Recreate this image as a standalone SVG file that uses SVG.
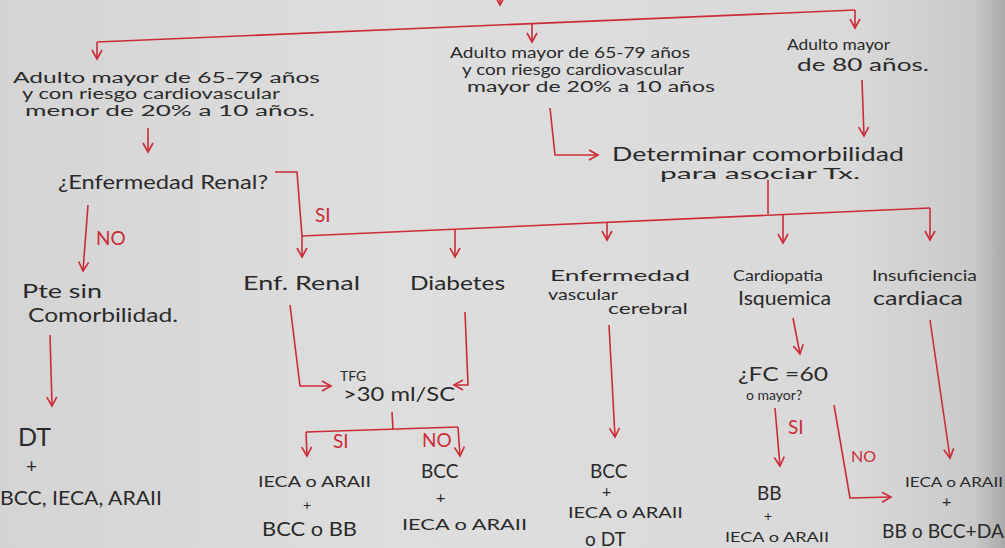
<svg xmlns="http://www.w3.org/2000/svg" width="1005" height="548" viewBox="0 0 1005 548">
<defs>
<linearGradient id="paper" x1="0" y1="0" x2="1" y2="0">
<stop offset="0" stop-color="#d4d4d4"/>
<stop offset="0.4" stop-color="#dedede"/>
<stop offset="0.85" stop-color="#d9d9d9"/>
<stop offset="0.97" stop-color="#c9c9c9"/>
<stop offset="1" stop-color="#a9a9a9"/>
</linearGradient>
<marker id="ah" viewBox="0 0 12 12" refX="10" refY="6" markerWidth="12" markerHeight="12" markerUnits="userSpaceOnUse" orient="auto">
<path d="M1,1 L10,6 L1,11" fill="none" stroke="#cc2b36" stroke-width="1.6"/>
</marker>
<style>
.t{font-family:"Lato","Liberation Sans",sans-serif;font-size:16px;fill:#2a2a2a;}
.m{font-size:19px;}
.n{font-size:17.5px;}
.s{font-size:14px;}
.x{font-size:14.5px;}
.L{font-size:25px;}
.r{font-family:"Lato","Liberation Sans",sans-serif;font-size:19px;fill:#cc2b36;}
.rs{font-size:16px;}
.c{fill:none;stroke:#cc2b36;stroke-width:1.6;stroke-linejoin:round;}
.a{marker-end:url(#ah);}
</style>
</defs>
<rect x="0" y="0" width="1005" height="548" fill="url(#paper)"/>
<g id="connectors">
<path class="c a" d="M500,-8 L500,5"/>
<path class="c" d="M97,42 L855,10"/>
<path class="c a" d="M97,42 L97,59"/>
<path class="c a" d="M532,23.6 L532,42"/>
<path class="c a" d="M855,10 L855,28"/>
<path class="c a" d="M550,108 L555,155 L598,155"/>
<path class="c a" d="M862,80 L864,136"/>
<path class="c a" d="M148,128 L148,152"/>
<path class="c" d="M768,180 L768,214"/>
<path class="c" d="M302,236 L930,208"/>
<path class="c" d="M275,172 L297,172 L302,236"/>
<path class="c a" d="M302,236 L302,257"/>
<path class="c a" d="M455,229 L455,257"/>
<path class="c a" d="M607,222 L607,240"/>
<path class="c a" d="M783,215 L783,243"/>
<path class="c a" d="M930,208 L930,240"/>
<path class="c a" d="M88,205 L83,271"/>
<path class="c a" d="M50,335 L52,406"/>
<path class="c a" d="M290,305 L300,386 L331,386"/>
<path class="c a" d="M465,312 L468,385 L454,385"/>
<path class="c" d="M392,412 L393,430"/>
<path class="c" d="M306,432 L458,427"/>
<path class="c a" d="M306,432 L307,456"/>
<path class="c a" d="M458,427 L460,456"/>
<path class="c a" d="M609,325 L615,437"/>
<path class="c a" d="M793,318 L800,354"/>
<path class="c a" d="M775,408 L780,466"/>
<path class="c a" d="M834,405 L850,498 L891,497"/>
<path class="c a" d="M930,320 L950,458"/>
</g>
<g id="labels">
<text class="r" x="315" y="222">SI</text>
<text class="r" x="96" y="245">NO</text>
<text class="r" x="333" y="448">SI</text>
<text class="r" x="422" y="447">NO</text>
<text class="r" x="788" y="434">SI</text>
<text class="r rs" x="851" y="462">NO</text>
</g>
<g id="n1">
<text class="t x" x="13" y="83" textLength="307" lengthAdjust="spacingAndGlyphs">Adulto mayor de 65-79 años</text>
<text class="t x" x="22" y="99" textLength="258" lengthAdjust="spacingAndGlyphs">y con riesgo cardiovascular</text>
<text class="t x" x="25" y="116" textLength="290" lengthAdjust="spacingAndGlyphs">menor de 20% a 10 años.</text>
</g>
<g id="n2">
<text class="t x" x="450" y="58" textLength="240" lengthAdjust="spacingAndGlyphs">Adulto mayor de 65-79 años</text>
<text class="t x" x="462" y="75" textLength="222" lengthAdjust="spacingAndGlyphs">y con riesgo cardiovascular</text>
<text class="t x" x="467" y="92" textLength="248" lengthAdjust="spacingAndGlyphs">mayor de 20% a 10 años</text>
</g>
<g id="n3">
<text class="t x" x="787" y="50" textLength="103" lengthAdjust="spacingAndGlyphs">Adulto mayor</text>
<text class="t n" x="797" y="71" textLength="132" lengthAdjust="spacingAndGlyphs">de 80 años.</text>
</g>
<g id="n4">
<text class="t m" x="612" y="161" textLength="292" lengthAdjust="spacingAndGlyphs">Determinar comorbilidad</text>
<text class="t" x="660" y="179" textLength="200" lengthAdjust="spacingAndGlyphs">para asociar Tx.</text>
</g>
<g id="n5">
<text class="t m" x="58" y="189" textLength="210" lengthAdjust="spacingAndGlyphs">¿Enfermedad Renal?</text>
</g>
<g id="n6">
<text class="t m" x="22" y="298" textLength="80" lengthAdjust="spacingAndGlyphs">Pte sin</text>
<text class="t m" x="28" y="322" textLength="150" lengthAdjust="spacingAndGlyphs">Comorbilidad.</text>
</g>
<g id="n7">
<text class="t L" x="18" y="446">DT</text>
<text class="t m" x="26" y="473">+</text>
<text class="t m" x="0" y="505" textLength="162" lengthAdjust="spacingAndGlyphs">BCC, IECA, ARAII</text>
</g>
<g id="n8">
<text class="t m" x="243" y="290" textLength="117" lengthAdjust="spacingAndGlyphs">Enf. Renal</text>
</g>
<g id="n9">
<text class="t m" x="410" y="290" textLength="95" lengthAdjust="spacingAndGlyphs">Diabetes</text>
</g>
<g id="n10">
<text class="t" x="550" y="281" textLength="140" lengthAdjust="spacingAndGlyphs">Enfermedad</text>
<text class="t" x="548" y="300" textLength="70" lengthAdjust="spacingAndGlyphs">vascular</text>
<text class="t" x="608" y="314" textLength="80" lengthAdjust="spacingAndGlyphs">cerebral</text>
</g>
<g id="n11">
<text class="t" x="733" y="281" textLength="90" lengthAdjust="spacingAndGlyphs">Cardiopatia</text>
<text class="t m" x="738" y="305" textLength="93" lengthAdjust="spacingAndGlyphs">Isquemica</text>
</g>
<g id="n12">
<text class="t" x="872" y="281" textLength="105" lengthAdjust="spacingAndGlyphs">Insuficiencia</text>
<text class="t m" x="873" y="305" textLength="90" lengthAdjust="spacingAndGlyphs">cardiaca</text>
</g>
<g id="n13">
<text class="t s" x="340" y="381">TFG</text>
<text class="t m" x="343" y="401" textLength="112" lengthAdjust="spacingAndGlyphs">&gt;30 ml/SC</text>
</g>
<g id="n14">
<text class="t" x="258" y="487" textLength="113" lengthAdjust="spacingAndGlyphs">IECA o ARAII</text>
<text class="t s" x="303" y="510">+</text>
<text class="t m" x="262" y="536" textLength="95" lengthAdjust="spacingAndGlyphs">BCC o BB</text>
</g>
<g id="n15">
<text class="t m" x="421" y="478">BCC</text>
<text class="t" x="436" y="503">+</text>
<text class="t" x="402" y="530" textLength="125" lengthAdjust="spacingAndGlyphs">IECA o ARAII</text>
</g>
<g id="n16">
<text class="t m" x="590" y="478">BCC</text>
<text class="t" x="602" y="497">+</text>
<text class="t" x="568" y="518" textLength="115" lengthAdjust="spacingAndGlyphs">IECA o ARAII</text>
<text class="t m" x="585" y="546">o DT</text>
</g>
<g id="n17">
<text class="t m" x="738" y="381" textLength="90" lengthAdjust="spacingAndGlyphs">¿FC =60</text>
<text class="t s" x="746" y="400">o mayor?</text>
</g>
<g id="n18">
<text class="t m" x="757" y="500">BB</text>
<text class="t s" x="764" y="521">+</text>
<text class="t s" x="725" y="542" textLength="104" lengthAdjust="spacingAndGlyphs">IECA o ARAII</text>
</g>
<g id="n19">
<text class="t s" x="905" y="487" textLength="98" lengthAdjust="spacingAndGlyphs">IECA o ARAII</text>
<text class="t" x="942" y="507">+</text>
<text class="t m" x="882" y="538" textLength="122" lengthAdjust="spacingAndGlyphs">BB o BCC+DA</text>
</g>
</svg>
